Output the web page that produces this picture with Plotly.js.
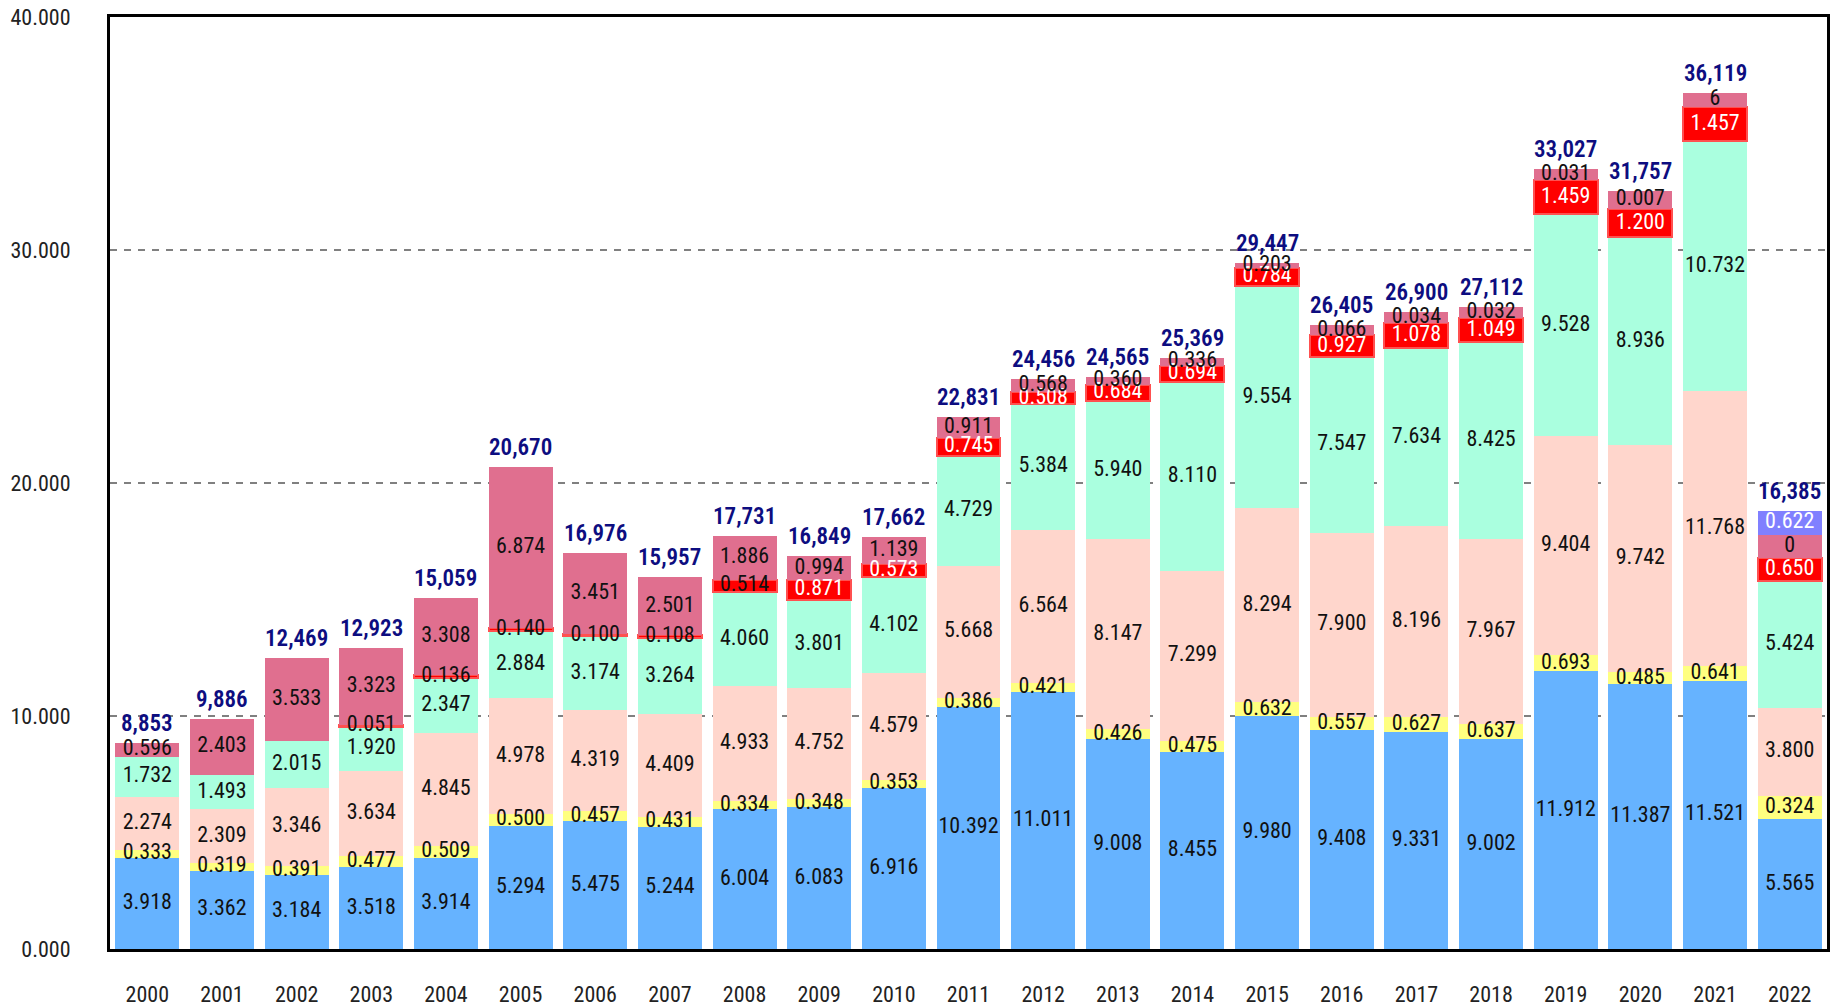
<!DOCTYPE html>
<html><head><meta charset="utf-8">
<script src="https://cdn.plot.ly/plotly-3.0.1.min.js"></script>
<style>
html,body{margin:0;padding:0;background:#fff}
#chart{width:1831px;height:1007px}
</style>
</head><body><div id="chart"></div>
<script>
// ---------- data ----------
const years = ['2000','2001','2002','2003','2004','2005','2006','2007','2008','2009','2010','2011',
               '2012','2013','2014','2015','2016','2017','2018','2019','2020','2021','2022'];

// segment heights as drawn (bottom to top)
const blue   = [3.918,3.362,3.184,3.518,3.914,5.294,5.475,5.244,6.004,6.083,6.916,10.392,11.011,9.008,8.455,9.980,9.408,9.331,9.002,11.912,11.387,11.521,5.565];
const yellow = [0.333,0.319,0.391,0.477,0.509,0.500,0.457,0.431,0.334,0.348,0.353,0.386,0.421,0.426,0.475,0.632,0.557,0.627,0.637,0.693,0.485,0.641,1.0];
const peach  = [2.274,2.309,3.346,3.634,4.845,4.978,4.319,4.409,4.933,4.752,4.579,5.668,6.564,8.147,7.299,8.294,7.900,8.196,7.967,9.404,9.742,11.768,3.800];
const aqua   = [1.732,1.493,2.015,1.920,2.347,2.884,3.174,3.264,4.060,3.801,4.102,4.729,5.384,5.940,8.110,9.554,7.547,7.634,8.425,9.528,8.936,10.732,5.424];
const red    = [null,null,null,0.051,0.136,0.140,0.100,0.108,0.514,0.871,0.573,0.745,0.508,0.684,0.694,0.784,0.927,1.078,1.049,1.459,1.200,1.457,1.0];
const pink   = [0.596,2.403,3.533,3.323,3.308,6.874,3.451,2.501,1.886,0.994,1.139,0.911,0.568,0.360,0.336,0.203,0.44,0.48,0.46,0.50,0.80,0.64,1.0];
const purple = [null,null,null,null,null,null,null,null,null,null,null,null,null,null,null,null,null,null,null,null,null,null,1.0];

// label texts as printed on the segments
const blueLabels   = ['3.918','3.362','3.184','3.518','3.914','5.294','5.475','5.244','6.004','6.083','6.916','10.392','11.011','9.008','8.455','9.980','9.408','9.331','9.002','11.912','11.387','11.521','5.565'];
const yellowLabels = ['0.333','0.319','0.391','0.477','0.509','0.500','0.457','0.431','0.334','0.348','0.353','0.386','0.421','0.426','0.475','0.632','0.557','0.627','0.637','0.693','0.485','0.641','0.324'];
const peachLabels  = ['2.274','2.309','3.346','3.634','4.845','4.978','4.319','4.409','4.933','4.752','4.579','5.668','6.564','8.147','7.299','8.294','7.900','8.196','7.967','9.404','9.742','11.768','3.800'];
const aquaLabels   = ['1.732','1.493','2.015','1.920','2.347','2.884','3.174','3.264','4.060','3.801','4.102','4.729','5.384','5.940','8.110','9.554','7.547','7.634','8.425','9.528','8.936','10.732','5.424'];
const redLabels    = ['','','','0.051','0.136','0.140','0.100','0.108','0.514','0.871','0.573','0.745','0.508','0.684','0.694','0.784','0.927','1.078','1.049','1.459','1.200','1.457','0.650'];
const pinkLabels   = ['0.596','2.403','3.533','3.323','3.308','6.874','3.451','2.501','1.886','0.994','1.139','0.911','0.568','0.360','0.336','0.203','0.066','0.034','0.032','0.031','0.007','6','0'];
const purpleLabels = ['','','','','','','','','','','','','','','','','','','','','','','0.622'];
const totals = ['8,853','9,886','12,469','12,923','15,059','20,670','16,976','15,957','17,731','16,849','17,662','22,831',
                '24,456','24,565','25,369','29,447','26,405','26,900','27,112','33,027','31,757','36,119','16,385'];

const yTickVals = [0,10,20,30,40];
const yTickText = ['0.000','10.000','20.000','30.000','40.000'];

// ---------- styling ----------
const FONT = '"Roboto Condensed", "Roboto", sans-serif';
const series = [
  {v: blue,   t: blueLabels,   color:'#66b3ff', txt:'#111111'},
  {v: yellow, t: yellowLabels, color:'#ffff80', txt:'#111111'},
  {v: peach,  t: peachLabels,  color:'#ffd6cc', txt:'#111111'},
  {v: aqua,   t: aquaLabels,   color:'#aaffdf', txt:'#111111'},
  {v: red,    t: redLabels,    color:'#ff0000', txt: years.map(y => (+y <= 2008 ? '#111111' : '#ffffff')), line:'#ff5050'},
  {v: pink,   t: pinkLabels,   color:'#e06f8f', txt:'#111111'},
  {v: purple, t: purpleLabels, color:'#8080ff', txt:'#ffffff'}
];

const traces = [];
series.forEach(s => {
  traces.push({
    type:'bar', x: years, y: s.v,
    marker:{color: s.color, line:{color: s.line || s.color, width: s.line ? 2 : 0}},
    hoverinfo:'skip', showlegend:false
  });
});

// segment labels, drawn on top of all bars
const base = years.map(() => 0);
series.forEach(s => {
  const mids = s.v.map((v, i) => {
    if (v === null) return null;
    const m = base[i] + v / 2;
    base[i] += v;
    return m;
  });
  traces.push({
    type:'scatter', mode:'text', x: years, y: mids, text: s.t,
    textposition:'middle center',
    textfont:{family: FONT, size: 22, color: s.txt},
    hoverinfo:'skip', showlegend:false, cliponaxis:false
  });
});

// totals above each stack (category index positions)
const annotations = years.map((yr, i) => ({
  x: i, y: base[i], xref:'x', yref:'y', text: totals[i], showarrow:false,
  xanchor:'center', yanchor:'bottom', yshift: 4,
  font:{family: FONT, size: 23, color:'#0d0d80', weight: 600}
}));

const layout = {
  width: 1831, height: 1007,
  margin:{l:110, r:4, t:17, b:58},
  paper_bgcolor:'#ffffff', plot_bgcolor:'#ffffff',
  barmode:'stack', bargap:0.143,
  showlegend:false,
  font:{family: FONT, size: 22, color:'#222222'},
  xaxis:{
    type:'category', range:[-0.5, 22.5], autorange:false,
    showline:true, mirror:true, linecolor:'#000000', linewidth:3,
    ticks:'outside', ticklen:24, tickcolor:'rgba(0,0,0,0)',
    tickfont:{family: FONT, size: 22, color:'#222222'},
    showgrid:false, zeroline:false, fixedrange:true
  },
  yaxis:{
    range:[0,40], autorange:false, tickvals: yTickVals, ticktext: yTickText,
    showline:true, mirror:true, linecolor:'#000000', linewidth:3,
    ticks:'outside', ticklen:32, tickcolor:'rgba(0,0,0,0)',
    tickfont:{family: FONT, size: 22, color:'#222222'},
    showgrid:true, gridcolor:'#808080', gridwidth:2, griddash:'7px,7px',
    zeroline:false, fixedrange:true
  },
  annotations: annotations
};

Plotly.newPlot('chart', traces, layout, {displayModeBar:false, staticPlot:true});
</script>
</body></html>
